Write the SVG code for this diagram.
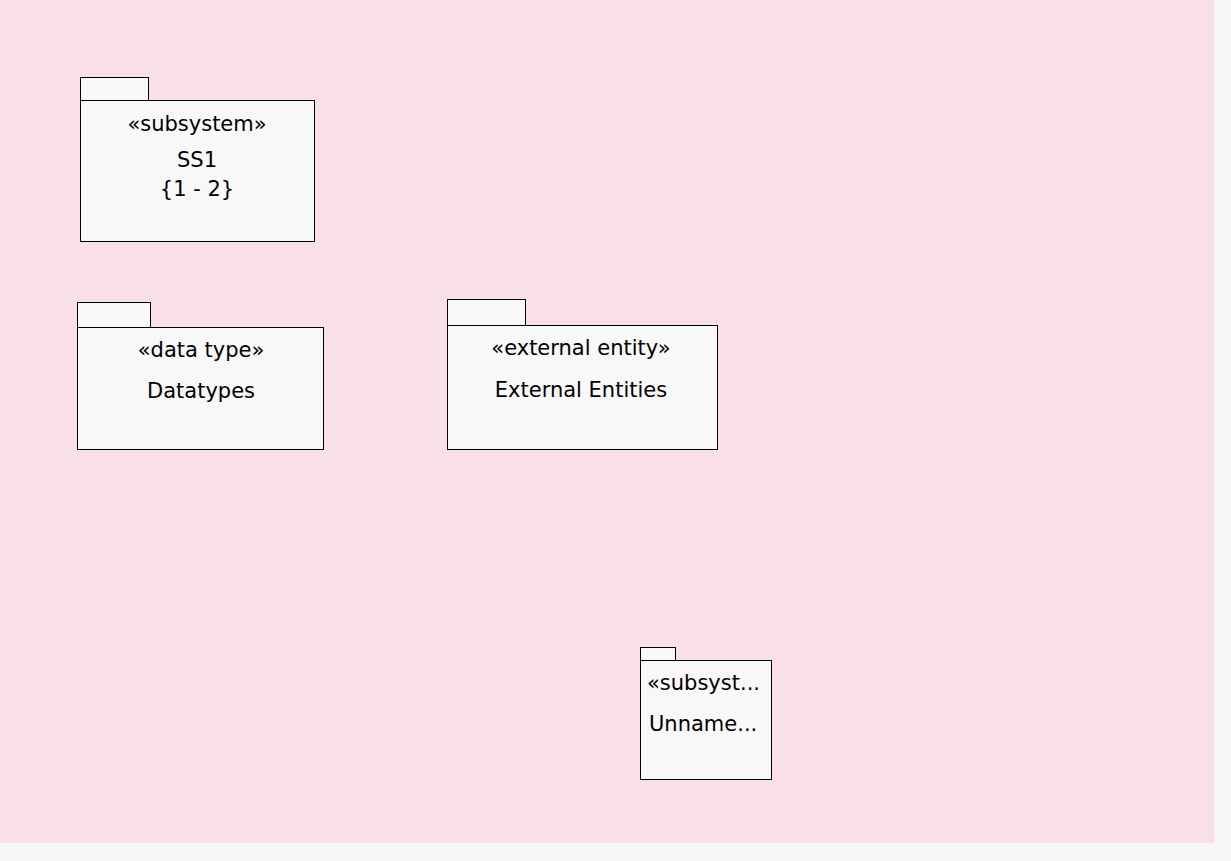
<svg xmlns="http://www.w3.org/2000/svg" width="1231" height="861" viewBox="0 0 1231 861">
<style>
.pk{fill:#f8f8f8;stroke:#000;stroke-width:1}
.t{font-family:"DejaVu Sans",Tahoma,sans-serif;font-size:21px;fill:#000;text-anchor:middle}
.l{text-anchor:start}
</style>
<rect x="0" y="0" width="1231" height="861" fill="#f7f7f7"/>
<rect x="0" y="0" width="1214" height="843" fill="#f8e0e6"/>
<g id="ss1">
<rect class="pk" x="80.5" y="77.5" width="68" height="23"/>
<rect class="pk" x="80.5" y="100.5" width="234" height="141"/>
<text class="t" x="197" y="131">«subsystem»</text>
<text class="t" x="197" y="167">SS1</text>
<text class="t" x="197" y="196">{1 - 2}</text>
</g>
<g id="datatypes">
<rect class="pk" x="77.5" y="302.5" width="73" height="25"/>
<rect class="pk" x="77.5" y="327.5" width="246" height="122"/>
<text class="t" x="201" y="357">«data type»</text>
<text class="t" x="201" y="398">Datatypes</text>
</g>
<g id="external">
<rect class="pk" x="447.5" y="299.5" width="78" height="26"/>
<rect class="pk" x="447.5" y="325.5" width="270" height="124"/>
<text class="t" x="581" y="355">«external entity»</text>
<text class="t" x="581" y="397">External Entities</text>
</g>
<g id="unnamed">
<rect class="pk" x="640.5" y="647.5" width="35" height="13"/>
<rect class="pk" x="640.5" y="660.5" width="131" height="119"/>
<text class="t l" x="647" y="690">«subsyst...</text>
<text class="t l" x="649" y="731">Unname...</text>
</g>
<g id="connectors"/>
</svg>
